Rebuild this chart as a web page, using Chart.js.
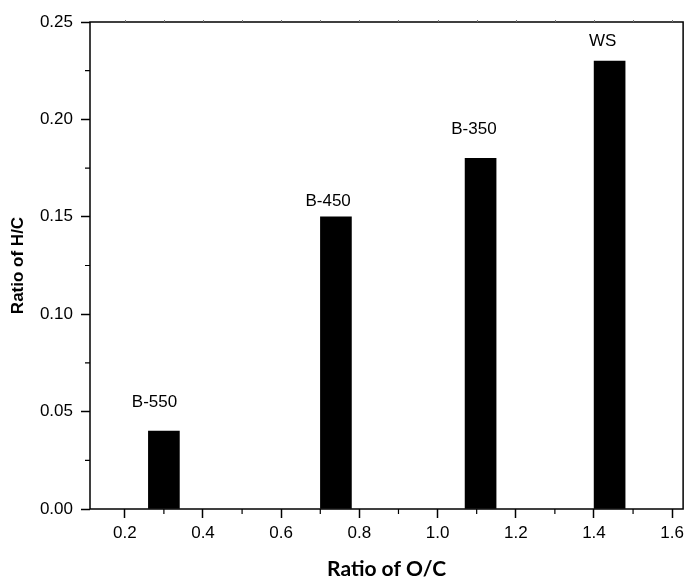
<!DOCTYPE html>
<html>
<head>
<meta charset="utf-8">
<script src="https://cdn.jsdelivr.net/npm/chart.js@4"></script>
<style>
  html, body { margin: 0; padding: 0; background: #fff; }
  #wrap { width: 689px; height: 582px; }
</style>
</head>
<body>
<div id="wrap"><canvas id="hcChart" width="689" height="582"></canvas></div>
<script>
// sample names and measured ratios
var samples = ['B-550', 'B-450', 'B-350', 'WS'];
var ocRatio = [0.30, 0.74, 1.11, 1.44];
var hcRatio = [0.04, 0.15, 0.18, 0.23];

// where each sample label sits (data units)
var labelX = [0.276, 0.72, 1.093, 1.422];
var labelY = [0.055, 0.158, 0.195, 0.240];

// axis ticks
var xMajor = [0.2, 0.4, 0.6, 0.8, 1.0, 1.2, 1.4, 1.6];
var xMinor = [0.3, 0.5, 0.7, 0.9, 1.1, 1.3, 1.5];
var yMajor = [0, 0.05, 0.10, 0.15, 0.20, 0.25];
var yMinor = [0.025, 0.075, 0.125, 0.175, 0.225];

window.addEventListener('load', function () {
    var points = [];
    for (var i = 0; i < samples.length; i++) {
        points.push({ x: ocRatio[i], y: hcRatio[i] });
    }

    // frame, minor ticks and the sample labels
    var framePlugin = {
        id: 'frame',
        afterDraw: function (chart) {
            var c = chart.ctx;
            var a = chart.chartArea;
            var xs = chart.scales.x, ys = chart.scales.y;
            c.save();
            c.strokeStyle = '#000';
            c.lineWidth = 1.5;
            c.strokeRect(a.left, a.top, a.right - a.left, a.bottom - a.top);

            c.lineWidth = 1.2;
            c.beginPath();
            xMinor.forEach(function (v) {
                var px = xs.getPixelForValue(v);
                c.moveTo(px, a.bottom); c.lineTo(px, a.bottom + 5);
            });
            yMinor.forEach(function (v) {
                var py = ys.getPixelForValue(v);
                c.moveTo(a.left, py); c.lineTo(a.left - 5, py);
            });
            c.stroke();

            // faint ticks on the top edge
            c.strokeStyle = '#777';
            c.lineWidth = 1;
            c.beginPath();
            xMajor.concat(xMinor).forEach(function (v) {
                var px = Math.round(xs.getPixelForValue(v)) + 0.5;
                c.moveTo(px, a.top); c.lineTo(px, a.top - 2);
            });
            c.stroke();

            c.fillStyle = '#000';
            c.font = '17px "Liberation Sans", Arial, sans-serif';
            c.textAlign = 'center';
            c.textBaseline = 'middle';
            for (var i = 0; i < samples.length; i++) {
                c.fillText(samples[i], xs.getPixelForValue(labelX[i]), ys.getPixelForValue(labelY[i]));
            }
            c.restore();
        }
    };

    var ctx = document.getElementById('hcChart').getContext('2d');
    var hcChart = new Chart(ctx, {
        type: 'bar',
        data: {
            datasets: [{
                data: points,
                backgroundColor: '#000',
                borderWidth: 0,
                barThickness: 31
            }]
        },
        options: {
            responsive: false,
            animation: false,
            layout: { padding: { top: 22, right: 1, left: 0, bottom: 0 } },
            plugins: {
                legend: { display: false },
                tooltip: { enabled: false }
            },
            scales: {
                x: {
                    type: 'linear',
                    min: 0.111,
                    max: 1.628,
                    offset: false,
                    afterBuildTicks: function (scale) {
                        scale.ticks = xMajor.map(function (v) { return { value: v }; });
                    },
                    afterFit: function (scale) { scale.height = 73; },
                    border: { display: false },
                    grid: {
                        offset: false,
                        drawOnChartArea: false,
                        drawTicks: true,
                        tickLength: 9,
                        tickWidth: 1.5,
                        tickColor: '#000'
                    },
                    ticks: {
                        color: '#000',
                        padding: 5,
                        maxRotation: 0,
                        autoSkip: false,
                        font: { family: '"Liberation Sans", Arial, sans-serif', size: 17 },
                        callback: function (v) { return v.toFixed(1); }
                    },
                    title: {
                        display: true,
                        text: 'Ratio of O/C',
                        color: '#000',
                        padding: { top: 6, bottom: 0 },
                        font: { family: 'Lato, "Open Sans", sans-serif', size: 21, weight: 'bold' }
                    }
                },
                y: {
                    min: 0,
                    max: 0.25,
                    afterBuildTicks: function (scale) {
                        scale.ticks = yMajor.map(function (v) { return { value: v }; });
                    },
                    afterFit: function (scale) { scale.width = 90; },
                    border: { display: false },
                    grid: {
                        offset: false,
                        drawOnChartArea: false,
                        drawTicks: true,
                        tickLength: 9,
                        tickWidth: 1.5,
                        tickColor: '#000'
                    },
                    ticks: {
                        color: '#000',
                        padding: 8,
                        autoSkip: false,
                        font: { family: '"Liberation Sans", Arial, sans-serif', size: 17 },
                        callback: function (v) { return v.toFixed(2); }
                    },
                    title: {
                        display: true,
                        text: 'Ratio of H/C',
                        color: '#000',
                        padding: { top: 8, bottom: 0 },
                        font: { family: '"Liberation Sans", Arial, sans-serif', size: 17, weight: 'bold' }
                    }
                }
            }
        },
        plugins: [framePlugin]
    });
});
</script>
</body>
</html>
